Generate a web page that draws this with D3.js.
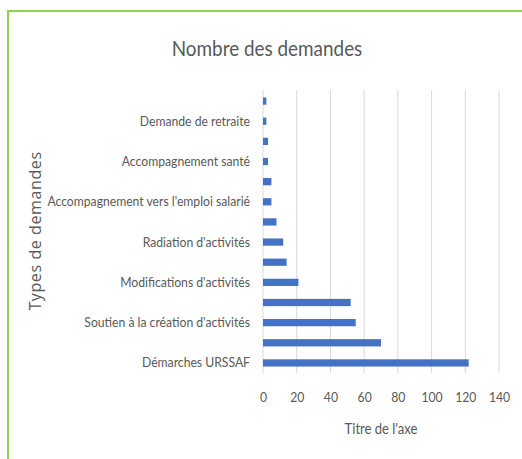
<!DOCTYPE html>
<html>
<head>
<meta charset="utf-8">
<script src="https://cdn.jsdelivr.net/npm/d3@7"></script>
<style>
	body { margin: 0; background: #fff; }
	svg { display: block; }
	text { font-family: Lato, 'Liberation Sans', sans-serif; fill: #595959; }
</style>
</head>
<body>
<svg id="viz"></svg>
<script>
// categories in Excel order (first one is drawn at the bottom); every other label is hidden in the source
var categories = [
	'Démarches URSSAF', '',
	'Soutien à la création d\'activités', '',
	'Modifications d\'activités', '',
	'Radiation d\'activités', '',
	'Accompagnement vers l\'emploi salarié', '',
	'Accompagnement santé', '',
	'Demande de retraite', ''
];
var values = [ 122, 70, 55, 52, 21, 14, 12, 8, 5, 5, 3, 3, 2, 2 ];
var xTicks = [ 0, 20, 40, 60, 80, 100, 120, 140 ];

var title = 'Nombre des demandes';
var xTitle = 'Titre de l\'axe';
var yTitle = 'Types de demandes';

var width = 522, height = 459;
var plot = { left: 263, right: 499, top: 91, bottom: 373 };
// Lato is wider than the Calibri of the source, so texts are squeezed a bit
var squeeze = 'scale(0.87,1)';

var svg = d3.select( '#viz' )
	.attr( 'width', width )
	.attr( 'height', height );

// green frame (top and left edges visible)
svg.append( 'path' )
	.attr( 'd', 'M8,' + height + 'V11H' + width )
	.attr( 'fill', 'none' )
	.attr( 'stroke', '#92d050' )
	.attr( 'stroke-width', 2 );

var xScale = d3.scaleLinear()
	.domain( [ 0, 140 ] )
	.range( [ plot.left, plot.right ] );

var yScale = d3.scaleBand()
	.domain( d3.range( categories.length ) )
	.range( [ plot.bottom, plot.top ] )
	.paddingInner( 0.64 )
	.paddingOuter( 0.32 );

// grid lines
svg.append( 'g' )
	.selectAll( 'line' )
	.data( xTicks )
	.enter()
	.append( 'line' )
	.attr( 'x1', function ( d ) { return xScale( d ); } )
	.attr( 'x2', function ( d ) { return xScale( d ); } )
	.attr( 'y1', plot.top - 1 )
	.attr( 'y2', plot.bottom )
	.attr( 'stroke', '#d9d9d9' )
	.attr( 'stroke-width', 1 );

// bars
svg.append( 'g' )
	.selectAll( 'rect' )
	.data( values )
	.enter()
	.append( 'rect' )
	.attr( 'x', xScale( 0 ) )
	.attr( 'y', function ( d, i ) { return yScale( i ); } )
	.attr( 'width', function ( d ) { return xScale( d ) - xScale( 0 ); } )
	.attr( 'height', yScale.bandwidth() )
	.style( 'fill', '#4472c4' );

// x axis labels
var xAxis = svg.append( 'g' )
	.attr( 'transform', 'translate(0,' + ( plot.bottom + 9 ) + ')' )
	.call( d3.axisBottom( xScale ).tickValues( xTicks ).tickSize( 0 ).tickPadding( 10 ) );
xAxis.select( '.domain' ).remove();
xAxis.attr( 'font-family', null ).attr( 'font-size', null );
xAxis.selectAll( 'text' )
	.attr( 'font-size', 14 )
	.attr( 'transform', squeeze )
	.style( 'fill', '#595959' );

// category labels
var yAxis = svg.append( 'g' )
	.attr( 'transform', 'translate(' + ( plot.left - 13 ) + ',0)' )
	.call( d3.axisLeft( yScale ).tickSize( 0 ).tickPadding( 0 )
		.tickFormat( function ( i ) { return categories[i]; } ) );
yAxis.select( '.domain' ).remove();
yAxis.attr( 'font-family', null ).attr( 'font-size', null );
yAxis.selectAll( 'text' )
	.attr( 'font-size', 14 )
	.attr( 'transform', squeeze )
	.style( 'fill', '#595959' );

// titles
svg.append( 'text' )
	.attr( 'transform', 'translate(267,56) scale(0.9,1)' )
	.attr( 'text-anchor', 'middle' )
	.attr( 'font-size', 21 )
	.text( title );

svg.append( 'text' )
	.attr( 'transform', 'translate(' + ( plot.left + plot.right ) / 2 + ',434) ' + squeeze )
	.attr( 'text-anchor', 'middle' )
	.attr( 'font-size', 15 )
	.text( xTitle );

svg.append( 'text' )
	.attr( 'transform', 'translate(41,231) rotate(-90)' )
	.attr( 'text-anchor', 'middle' )
	.style( 'font-family', '\'Open Sans\', sans-serif' )
	.attr( 'font-size', 16 )
	.attr( 'letter-spacing', 0.6 )
	.text( yTitle );
</script>
</body>
</html>
